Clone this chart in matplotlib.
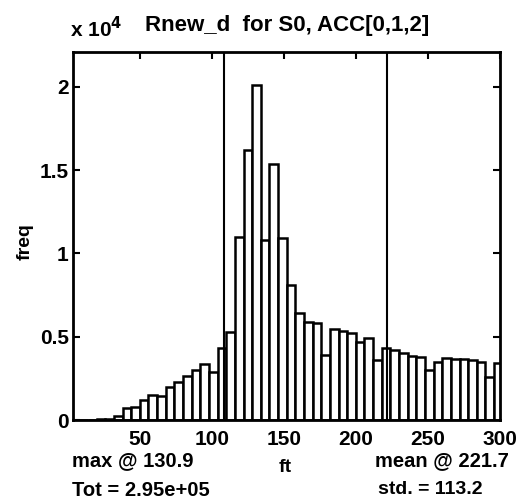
import numpy as np
import matplotlib
matplotlib.use("Agg")
import matplotlib.pyplot as plt

plt.rcParams['font.family'] = ['Liberation Sans', 'DejaVu Sans']
plt.rcParams['font.weight'] = 'bold'
plt.rcParams['mathtext.default'] = 'bf'

# histogram of Rnew_d (ft), 50 bins of ~6 ft
bin_start = 4.9
bin_width = 6.0
counts = [0, 10, 20, 40, 60, 250, 700, 800, 1200, 1500,
          1440, 2000, 2300, 2640, 3000, 3340, 2860, 4300, 5300, 11000,
          16200, 20100, 10800, 15400, 10900, 8100, 6400, 5900, 5800, 3900,
          5440, 5360, 5240, 4700, 4900, 3600, 4300, 4200, 4000, 3840,
          3800, 3000, 3500, 3700, 3660, 3640, 3600, 3500, 2600, 3400]
mean_val = 221.7
std_val = 113.2
max_at = 130.9
total = 2.95e5

xticks = [50, 100, 150, 200, 250, 300]
yticks = [0, 5000, 10000, 15000, 20000]
ytick_labels = ['0', '0.5', '1', '1.5', '2']

centers = bin_start + bin_width * np.arange(len(counts))

W, H = 522, 503
fig = plt.figure(figsize=(W / 100, H / 100), dpi=100)
ax = fig.add_axes([73 / W, 1 - 420 / H, (500 - 73) / W, (420 - 52) / H])

ax.bar(centers, counts, width=bin_width, facecolor='white',
       edgecolor='black', linewidth=1.8, zorder=2)
ax.axvline(mean_val - std_val, color='black', linewidth=1.5, zorder=3)
ax.axvline(mean_val, color='black', linewidth=1.5, zorder=3)

ax.set_xlim(3.5, 300)
ax.set_ylim(0, 22100)
ax.set_xticks(xticks)
ax.set_xticklabels([str(t) for t in xticks])
ax.set_yticks(yticks)
ax.set_yticklabels(ytick_labels)
ax.tick_params(direction='in', length=5, width=1.5, top=True, right=True,
               labelsize=15)
ax.tick_params(axis='x', pad=7)
ax.tick_params(axis='y', pad=3)
for s in ax.spines.values():
    s.set_linewidth(2)

def ftext(x, y, s, **kw):
    fig.text(x / W, 1 - y / H, s, fontweight='bold', **kw)

ftext(287, 25, 'Rnew_d  for S0, ACC[0,1,2]', fontsize=16, ha='center', va='center')
ftext(70, 29, r'x 10$^{4}$', fontsize=15, ha='left', va='center')
ftext(25, 242, 'freq', fontsize=14, ha='center', va='center', rotation=90)
ftext(285, 467, 'ft', fontsize=14, ha='center', va='center')
ftext(72, 461, 'max @ %.1f' % max_at, fontsize=14.5, ha='left', va='center')
ftext(72, 490, 'Tot = %.2e' % total, fontsize=14.5, ha='left', va='center')
ftext(375, 461, 'mean @ %.1f' % mean_val, fontsize=14.5, ha='left', va='center')
ftext(378, 490, 'std. = %.1f' % std_val, fontsize=14, ha='left', va='center')

fig.savefig('out.png', dpi=100)
